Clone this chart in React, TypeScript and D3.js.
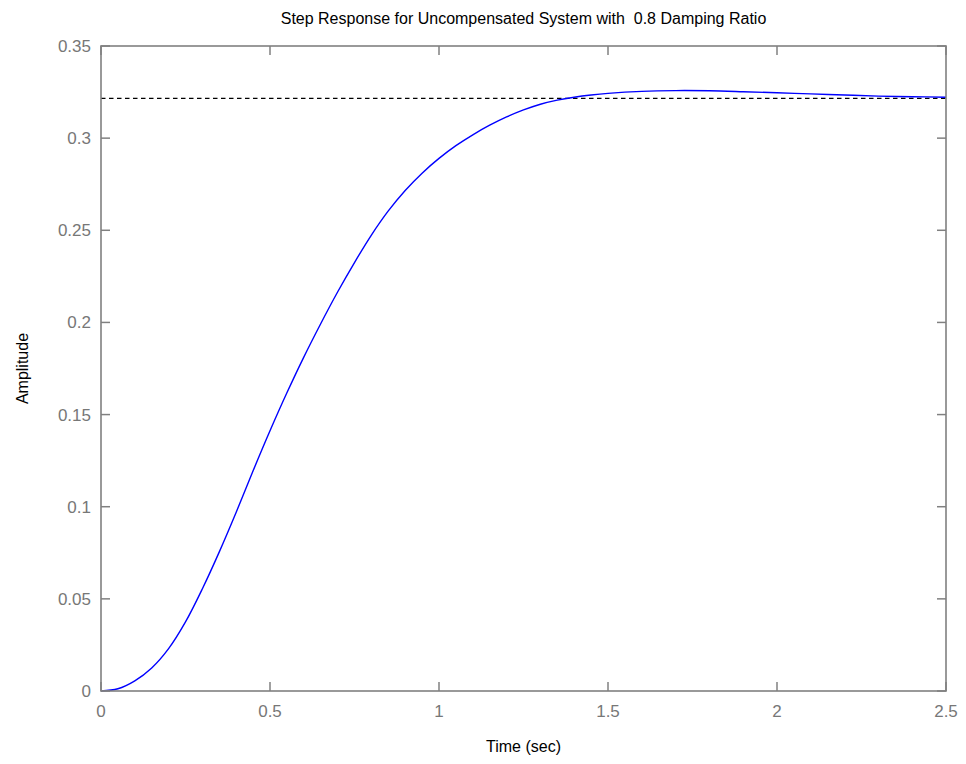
import React from "react";
import * as d3 from "d3";

const times = [0, 0.05, 0.1, 0.15, 0.2, 0.25, 0.3, 0.35, 0.4, 0.45, 0.5, 0.55, 0.6, 0.65, 0.7, 0.75, 0.8, 0.85, 0.9, 0.95, 1.0, 1.05, 1.1, 1.15, 1.2, 1.25, 1.3, 1.35, 1.4, 1.45, 1.5, 1.6, 1.7, 1.8, 1.9, 2.0, 2.1, 2.2, 2.3, 2.4, 2.5];
const amplitude = [0, 0.0012, 0.0055, 0.0125, 0.023, 0.0375, 0.0555, 0.0755, 0.097, 0.1195, 0.1412, 0.1618, 0.1812, 0.1993, 0.2165, 0.2325, 0.2474, 0.2605, 0.2716, 0.281, 0.289, 0.2959, 0.3018, 0.307, 0.3115, 0.3153, 0.3184, 0.3206, 0.3222, 0.3234, 0.3243, 0.3254, 0.3258, 0.3257, 0.3252, 0.3246, 0.3240, 0.3234, 0.3228, 0.3225, 0.3222];
const finalValue = 0.3216;
const xTicks = [0, 0.5, 1, 1.5, 2, 2.5];
const yTicks = [0, 0.05, 0.1, 0.15, 0.2, 0.25, 0.3, 0.35];
const title = "Step Response for Uncompensated System with  0.8 Damping Ratio";
const xLabel = "Time (sec)";
const yLabel = "Amplitude";

export default function App() {
  const W = 966, H = 764;
  const L = 101, R = 946, T = 46, B = 691;
  const x = d3.scaleLinear().domain([0, 2.5]).range([L, R]);
  const y = d3.scaleLinear().domain([0, 0.35]).range([B, T]);
  const line = d3
    .line<number>()
    .x((_, i) => x(times[i]))
    .y((d) => y(d))
    .curve(d3.curveCatmullRom.alpha(0.5));
  const axisColor = "#808080";
  const font = "'Liberation Sans', Arial, sans-serif";
  const tickLen = 9;
  return (
    <svg width={W} height={H} style={{ position: "absolute", left: 0, top: 0, background: "#fff" }} fontFamily={font}>
      <rect x={0} y={0} width={W} height={H} fill="#fff" />
      <line x1={x(0)} x2={x(2.5)} y1={y(finalValue)} y2={y(finalValue)} stroke="#000" strokeWidth={1.3} strokeDasharray="4.5,3.5" />
      <path d={line(amplitude) || ""} fill="none" stroke="#0000ff" strokeWidth={1.4} />
      <rect x={L} y={T} width={R - L} height={B - T} fill="none" stroke={axisColor} strokeWidth={1.6} />
      {xTicks.map((t) => (
        <g key={"x" + t}>
          <line x1={x(t)} x2={x(t)} y1={B} y2={B - tickLen} stroke={axisColor} strokeWidth={1.5} />
          <line x1={x(t)} x2={x(t)} y1={T} y2={T + tickLen} stroke={axisColor} strokeWidth={1.5} />
          <text x={x(t)} y={B + 26} textAnchor="middle" fontSize={17} fill="#777">{String(t)}</text>
        </g>
      ))}
      {yTicks.map((v) => (
        <g key={"y" + v}>
          <line x1={L} x2={L + tickLen} y1={y(v)} y2={y(v)} stroke={axisColor} strokeWidth={1.5} />
          <line x1={R} x2={R - tickLen} y1={y(v)} y2={y(v)} stroke={axisColor} strokeWidth={1.5} />
          <text x={L - 10} y={y(v) + 6} textAnchor="end" fontSize={17} fill="#777">{String(v)}</text>
        </g>
      ))}
      <text x={(L + R) / 2} y={24} textAnchor="middle" fontSize={16} fill="#000" style={{ whiteSpace: "pre" }}>{title}</text>
      <text x={(L + R) / 2} y={752} textAnchor="middle" fontSize={16} fill="#000">{xLabel}</text>
      <text transform={`translate(28, ${(T + B) / 2}) rotate(-90)`} textAnchor="middle" fontSize={16} fill="#000">{yLabel}</text>
    </svg>
  );
}
